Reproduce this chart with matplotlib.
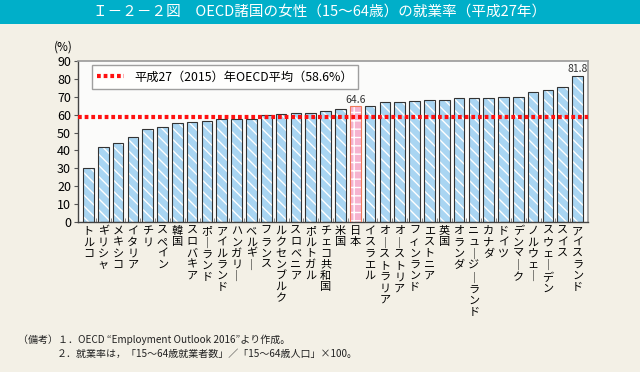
import matplotlib.pyplot as plt
import numpy as np

plt.rcParams['font.family'] = ['Noto Sans CJK JP', 'DejaVu Sans']

countries = ['トルコ', 'ギリシャ', 'メキシコ', 'イタリア', 'チリ', 'スペイン', '韓国',
             'スロバキア', 'ポーランド', 'アイルランド', 'ハンガリー', 'ベルギー', 'フランス',
             'ルクセンブルク', 'スロベニア', 'ポルトガル', 'チェコ共和国', '米国', '日本',
             'イスラエル', 'オーストラリア', 'オーストリア', 'フィンランド', 'エストニア', '英国',
             'オランダ', 'ニュージーランド', 'カナダ', 'ドイツ', 'デンマーク', 'ノルウェー',
             'スウェーデン', 'スイス', 'アイスランド']
rates = [30.2, 42.1, 44.0, 47.7, 51.8, 53.3, 55.5, 55.7, 56.6, 57.6, 57.7, 57.8, 60.0,
         60.6, 60.7, 60.8, 62.3, 63.2, 64.6, 64.8, 66.9, 67.1, 67.8, 68.2, 68.3,
         69.1, 69.1, 69.2, 69.7, 70.1, 72.9, 73.8, 75.6, 81.8]
oecd_avg = 58.6
japan = '日本'

bg = '#f3f0e6'
fig = plt.figure(figsize=(6.4, 3.72), dpi=100, facecolor=bg)

# title bar
fig.patches.append(plt.Rectangle((0, 1 - 24 / 372), 1, 24 / 372, transform=fig.transFigure,
                                 facecolor='#00afc9', edgecolor='none'))
fig.text(0.5, 1 - 12 / 372, 'Ｉ－２－２図　OECD諸国の女性（15～64歳）の就業率（平成27年）',
         ha='center', va='center', color='white', fontsize=10.5)

ax = fig.add_axes([78 / 640, 1 - 222 / 372, 510 / 640, 161 / 372])
ax.set_facecolor('#fbfbfa')

x = np.arange(len(countries))
is_jp = np.array([c == japan for c in countries])
vals = np.array(rates)

ax.bar(x[~is_jp], vals[~is_jp], width=0.72, color='#a9d5f2', edgecolor='white',
       hatch='\\\\\\', linewidth=0, zorder=2)
ax.bar(x[~is_jp], vals[~is_jp], width=0.72, fill=False, edgecolor='#333333',
       linewidth=0.8, zorder=3)
ax.bar(x[is_jp], vals[is_jp], width=0.72, color='#f6b3cf', edgecolor='white',
       hatch='++', linewidth=0, zorder=2)
ax.bar(x[is_jp], vals[is_jp], width=0.72, fill=False, edgecolor='#f07a5a',
       linewidth=0.8, zorder=3)

for i in [countries.index(japan), len(countries) - 1]:
    ax.text(x[i], vals[i] + 0.8, f'{vals[i]:.1f}', ha='center', va='bottom',
            fontsize=7.5, color='#333333', zorder=5)

avg_line, = ax.plot([-0.7, len(countries) - 0.3], [oecd_avg, oecd_avg], color='#ff1010',
                    lw=3, linestyle=(0, (0.9, 0.7)), zorder=4,
                    label=f'平成27（2015）年OECD平均（{oecd_avg}%）')

leg = ax.legend(handles=[avg_line], loc='upper left', bbox_to_anchor=(0.027, 0.975),
                fontsize=8.8, frameon=True, fancybox=False, edgecolor='#888888',
                handlelength=2.2, borderpad=0.45, borderaxespad=0)
leg.get_frame().set_linewidth(1)

ax.set_xlim(-0.7, len(countries) - 0.3)
ax.set_ylim(0, 90)
ax.set_yticks(range(0, 91, 10))
ax.tick_params(axis='y', labelsize=9, length=3, width=0.8, color='#555555', pad=2)
ax.set_xticks(x)
ax.set_xticklabels(['\n'.join(c.replace('ー', '｜')) for c in countries],
                   fontsize=8, linespacing=1.15, va='top')
ax.tick_params(axis='x', length=0, pad=3)
ax.set_xticks(x[:-1] + 0.5, minor=True)
ax.tick_params(axis='x', which='minor', direction='in', length=3, color='#777777')

for s in ['top', 'right']:
    ax.spines[s].set_color('#999999')
    ax.spines[s].set_linewidth(1.2)
for s in ['left', 'bottom']:
    ax.spines[s].set_color('#444444')
    ax.spines[s].set_linewidth(1)

fig.text(63 / 640, 1 - 47 / 372, '(%)', ha='center', va='center', fontsize=8.5)

fig.text(18 / 640, 1 - 340 / 372, '（備考）１．OECD “Employment Outlook 2016”より作成。',
         ha='left', va='center', fontsize=7.2, color='#222222')
fig.text(57 / 640, 1 - 354 / 372, '２．就業率は，「15～64歳就業者数」／「15～64歳人口」×100。',
         ha='left', va='center', fontsize=7.2, color='#222222')

fig.savefig('out.png', dpi=100, facecolor=bg)
